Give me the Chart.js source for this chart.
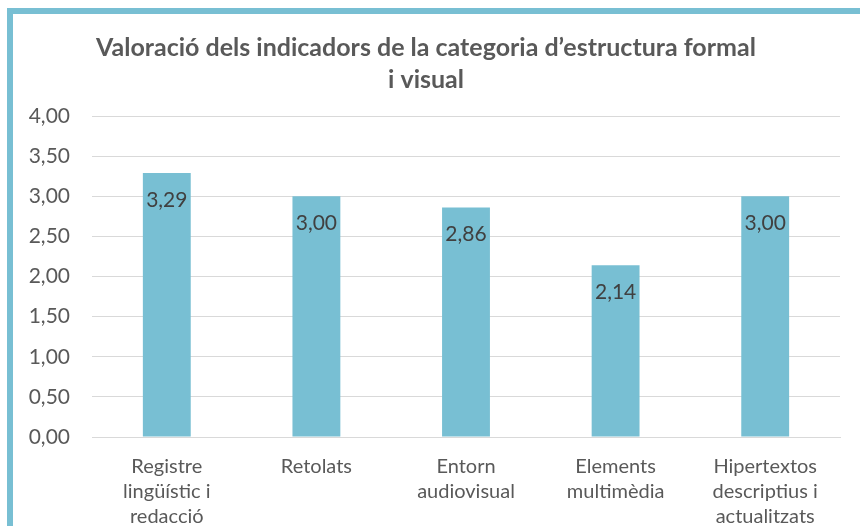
<!DOCTYPE html>
<html>
<head>
<meta charset="utf-8">
<script src="https://cdn.jsdelivr.net/npm/chart.js@4/dist/chart.umd.min.js"></script>
<style>
  html, body { margin: 0; padding: 0; background: #fff; }
  #wrap { position: relative; width: 860px; height: 526px; overflow: hidden; }
  #frame { position: absolute; left: 7px; top: 8px; width: 900px; height: 600px;
           border-left: 6px solid #78bfd3; border-top: 6px solid #78bfd3; }
  canvas { position: absolute; left: 0; top: 0; }
</style>
</head>
<body>
<div id="wrap">
  <div id="frame"></div>
  <canvas id="chart" width="860" height="526"></canvas>
</div>
<script>
// categories (multi-line labels) and values
const categories = [
  ['Registre', 'lingüístic i', 'redacció'],
  ['Retolats'],
  ['Entorn', 'audiovisual'],
  ['Elements', 'multimèdia'],
  ['Hipertextos', 'descriptius i', 'actualitzats']
];
const values = [3.29, 3.00, 2.86, 2.14, 3.00];
const titleLines = ['Valoració dels indicadors de la categoria d\u2019estructura formal', 'i visual'];

const fmt = v => v.toFixed(2).replace('.', ',');
const FONT = 'Lato, "Open Sans", sans-serif';

// value labels inside the top of each bar
const valueLabels = {
  id: 'valueLabels',
  afterDatasetsDraw(chart) {
    const ctx = chart.ctx;
    const meta = chart.getDatasetMeta(0);
    ctx.save();
    ctx.font = '21px ' + FONT;
    ctx.fillStyle = '#404040';
    ctx.textAlign = 'center';
    ctx.textBaseline = 'middle';
    meta.data.forEach((bar, i) => {
      ctx.fillText(fmt(values[i]), bar.x, bar.y + 27);
    });
    ctx.restore();
  }
};

new Chart(document.getElementById('chart'), {
  type: 'bar',
  data: {
    labels: categories,
    datasets: [{
      data: values,
      backgroundColor: '#78bfd3',
      barPercentage: 0.32,
      categoryPercentage: 1
    }]
  },
  options: {
    responsive: false,
    animation: false,
    layout: { padding: { left: 12, right: 20, top: 0, bottom: 0 } },
    plugins: {
      legend: { display: false },
      tooltip: { enabled: false },
      title: {
        display: true,
        text: titleLines,
        color: '#595959',
        font: { family: FONT, size: 25, weight: 'bold', lineHeight: 1.28 },
        padding: { top: 32, bottom: 20 }
      }
    },
    scales: {
      x: {
        grid: { display: false, drawTicks: false },
        border: { color: '#d9d9d9', width: 1 },
        ticks: {
          color: '#595959',
          font: { family: FONT, size: 20, lineHeight: 1.25 },
          padding: 17,
          maxRotation: 0,
          autoSkip: false
        },
        afterFit(scale) { scale.height = 89; }
      },
      y: {
        min: 0,
        max: 4,
        ticks: {
          stepSize: 0.5,
          color: '#595959',
          font: { family: FONT, size: 21 },
          padding: 22,
          callback: v => fmt(v)
        },
        grid: { color: '#d9d9d9', drawTicks: false },
        border: { display: false },
        afterFit(scale) { scale.width = 80; }
      }
    }
  },
  plugins: [valueLabels]
});
</script>
</body>
</html>
